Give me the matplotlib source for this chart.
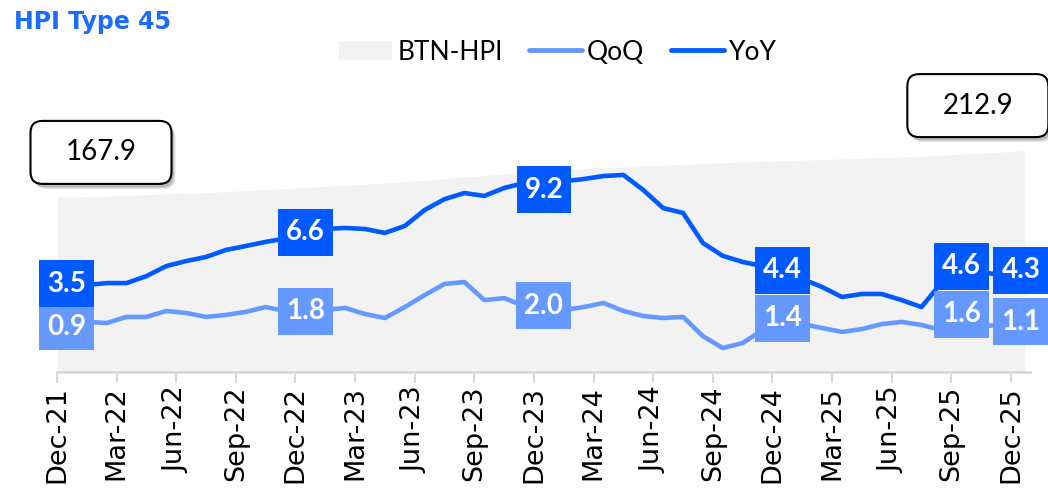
import numpy as np
import matplotlib
matplotlib.use("Agg")
import matplotlib.pyplot as plt
from matplotlib.patches import FancyBboxPatch, Patch
from matplotlib.lines import Line2D
from matplotlib.path import Path
from matplotlib.transforms import IdentityTransform

# ---------------- data ----------------
title = "HPI Type 45"
tick_labels = ["Dec-21", "Mar-22", "Jun-22", "Sep-22", "Dec-22", "Mar-23", "Jun-23",
               "Sep-23", "Dec-23", "Mar-24", "Jun-24", "Sep-24", "Dec-24", "Mar-25",
               "Jun-25", "Sep-25", "Dec-25"]

hpi = [167.9, 168.4, 168.9, 169.5, 170.2, 170.9, 171.6, 172.3, 173.1, 174.0,
       175.0, 176.0, 177.1, 178.1, 179.1, 180.2, 181.4, 182.7, 184.1, 185.6,
       187.1, 188.6, 190.1, 191.6, 193.0, 194.2, 195.3, 196.3, 197.2, 198.0,
       198.8, 199.6, 200.4, 201.2, 201.9, 202.5, 203.1, 203.7, 204.3, 204.9,
       205.5, 206.1, 206.8, 207.6, 208.5, 209.5, 210.6, 211.7, 212.9]

yoy = [3.45, 3.50, 3.61, 3.61, 4.00, 4.56, 4.84, 5.07, 5.46, 5.68,
       5.91, 6.10, 6.50, 6.63, 6.69, 6.63, 6.41, 6.80, 7.69, 8.30,
       8.64, 8.48, 8.92, 9.20, 9.26, 9.30, 9.42, 9.59, 9.65, 8.81,
       7.80, 7.53, 5.85, 5.13, 4.79, 4.56, 4.22, 3.84, 3.39, 2.83,
       3.00, 3.00, 2.66, 2.27, 3.62, 4.45, 4.22, 4.06, 4.34]

qoq = [1.44, 1.44, 1.38, 1.72, 1.72, 2.05, 1.94, 1.72, 1.83, 2.00,
       2.27, 2.05, 2.05, 2.11, 2.22, 1.88, 1.66, 2.27, 2.94, 3.56,
       3.67, 2.66, 2.77, 2.33, 2.11, 2.11, 2.27, 2.50, 2.05, 1.77,
       1.66, 1.72, 0.65, -0.02, 0.26, 0.99, 1.10, 1.32, 1.10, 0.88,
       1.04, 1.32, 1.44, 1.27, 0.99, 1.10, 1.21, 1.27, 1.27]

label_idx = [0, 12, 24, 36, 45, 48]
yoy_labels = ["3.5", "6.6", "9.2", "4.4", "4.6", "4.3"]
qoq_labels = ["0.9", "1.8", "2.0", "1.4", "1.6", "1.1"]
hpi_labels = ["167.9", "212.9"]

# ---------------- style ----------------
W, H = 1048, 491
YC = "#005AFF"
QC = "#6699FF"
AREA = "#F2F2F2"
AXC = "#D9D9D9"
yoy_off = [-2, 1, 8, -2, -2, 0]      # label box offsets (px, downward)
qoq_off = [5, 0, -4, -10, -14, -3]


def label_box(x0, y0, width, height, mutation_size):
    padx, pady = 8.0, 10.5
    verts = [(x0 - padx, y0 - pady), (x0 + width + padx, y0 - pady),
             (x0 + width + padx, y0 + height + pady), (x0 - padx, y0 + height + pady),
             (x0 - padx, y0 - pady)]
    return Path(verts, closed=True)


fig = plt.figure(figsize=(W / 100, H / 100), dpi=100)
ax = fig.add_axes([57 / W, (H - 372) / H, 973 / W, 312 / H])

x = np.arange(len(yoy)) + 0.5
xa = np.linspace(0, 48.7, len(hpi))

ax.fill_between(xa, hpi, 0, color=AREA, lw=0)
ax.set_ylim(0, 300)
ax.set_xlim(0, 48.96)
ax.set_yticks([])
for s in ["top", "left", "right"]:
    ax.spines[s].set_visible(False)
ax.spines["bottom"].set_color(AXC)
ax.spines["bottom"].set_linewidth(2)
ax.set_xticks(np.arange(0, 49, 3))
ax.set_xticklabels(tick_labels, rotation=90, fontsize=19.5, family="DejaVu Sans")
ax.tick_params(axis="x", direction="out", length=8, width=1.5, color=AXC, pad=2)

ax2 = ax.twinx()
ax2.set_ylim(-1.357, 16.07)
ax2.set_yticks([])
for s in ax2.spines.values():
    s.set_visible(False)
ax2.plot(x, qoq, color=QC, lw=3.3, solid_capstyle="round", solid_joinstyle="round")
ax2.plot(x, yoy, color=YC, lw=3.3, solid_capstyle="round", solid_joinstyle="round")

for k, t, d in zip(label_idx, yoy_labels, yoy_off):
    ax2.annotate(t, xy=(x[k], yoy[k]), xytext=(0, -d), textcoords="offset pixels",
                 ha="center", va="center", fontsize=20, fontweight="bold",
                 color="white", family="Lato", zorder=5,
                 bbox=dict(boxstyle=label_box, fc=YC, ec="none"))
for k, t, d in zip(label_idx, qoq_labels, qoq_off):
    ax2.annotate(t, xy=(x[k], qoq[k]), xytext=(0, -d), textcoords="offset pixels",
                 ha="center", va="center", fontsize=20, fontweight="bold",
                 color="white", family="Lato", zorder=4,
                 bbox=dict(boxstyle=label_box, fc=QC, ec="none"))

# HPI value call-out boxes
ident = IdentityTransform()
bw, bh = 141, 63
for (xi, yi), t, (dx, dy) in zip([(xa[0], hpi[0]), (xa[-1], hpi[-1])], hpi_labels,
                                 [(44, 45), (-47, 45)]):
    px, py = ax.transData.transform((xi, yi))
    cx, cy = px + dx, py + dy
    for i, a in enumerate([0.10, 0.10, 0.10]):
        sh = FancyBboxPatch((cx - bw / 2 + 2 + i, cy - bh / 2 - 3 - i), bw, bh,
                            boxstyle="round,pad=0,rounding_size=12",
                            fc="black", ec="none", alpha=a, transform=ident)
        fig.add_artist(sh)
    box = FancyBboxPatch((cx - bw / 2, cy - bh / 2), bw, bh,
                         boxstyle="round,pad=0,rounding_size=12",
                         fc="white", ec="black", lw=1.5, transform=ident)
    fig.add_artist(box)
    fig.text(cx, cy, t, transform=ident, ha="center", va="center",
             fontsize=20, family="Lato", color="black")

# legend
handles = [Patch(fc=AREA, ec="none"),
           Line2D([], [], color=QC, lw=3.5, solid_capstyle="round"),
           Line2D([], [], color=YC, lw=3.5, solid_capstyle="round")]
fig.legend(handles, ["BTN-HPI", "QoQ", "YoY"], ncol=3, loc="center",
           bbox_to_anchor=(558 / W, 1 - 52 / H), frameon=False,
           prop={"family": "Lato", "size": 19}, handlelength=2.0,
           handletextpad=0.2, columnspacing=1.0, borderpad=0)

fig.text(14 / W, 1 - 29 / H, title, fontsize=17, fontweight="bold",
         color="#1A6BFF", family="DejaVu Sans", ha="left", va="baseline")

fig.savefig("out.png", dpi=100)
